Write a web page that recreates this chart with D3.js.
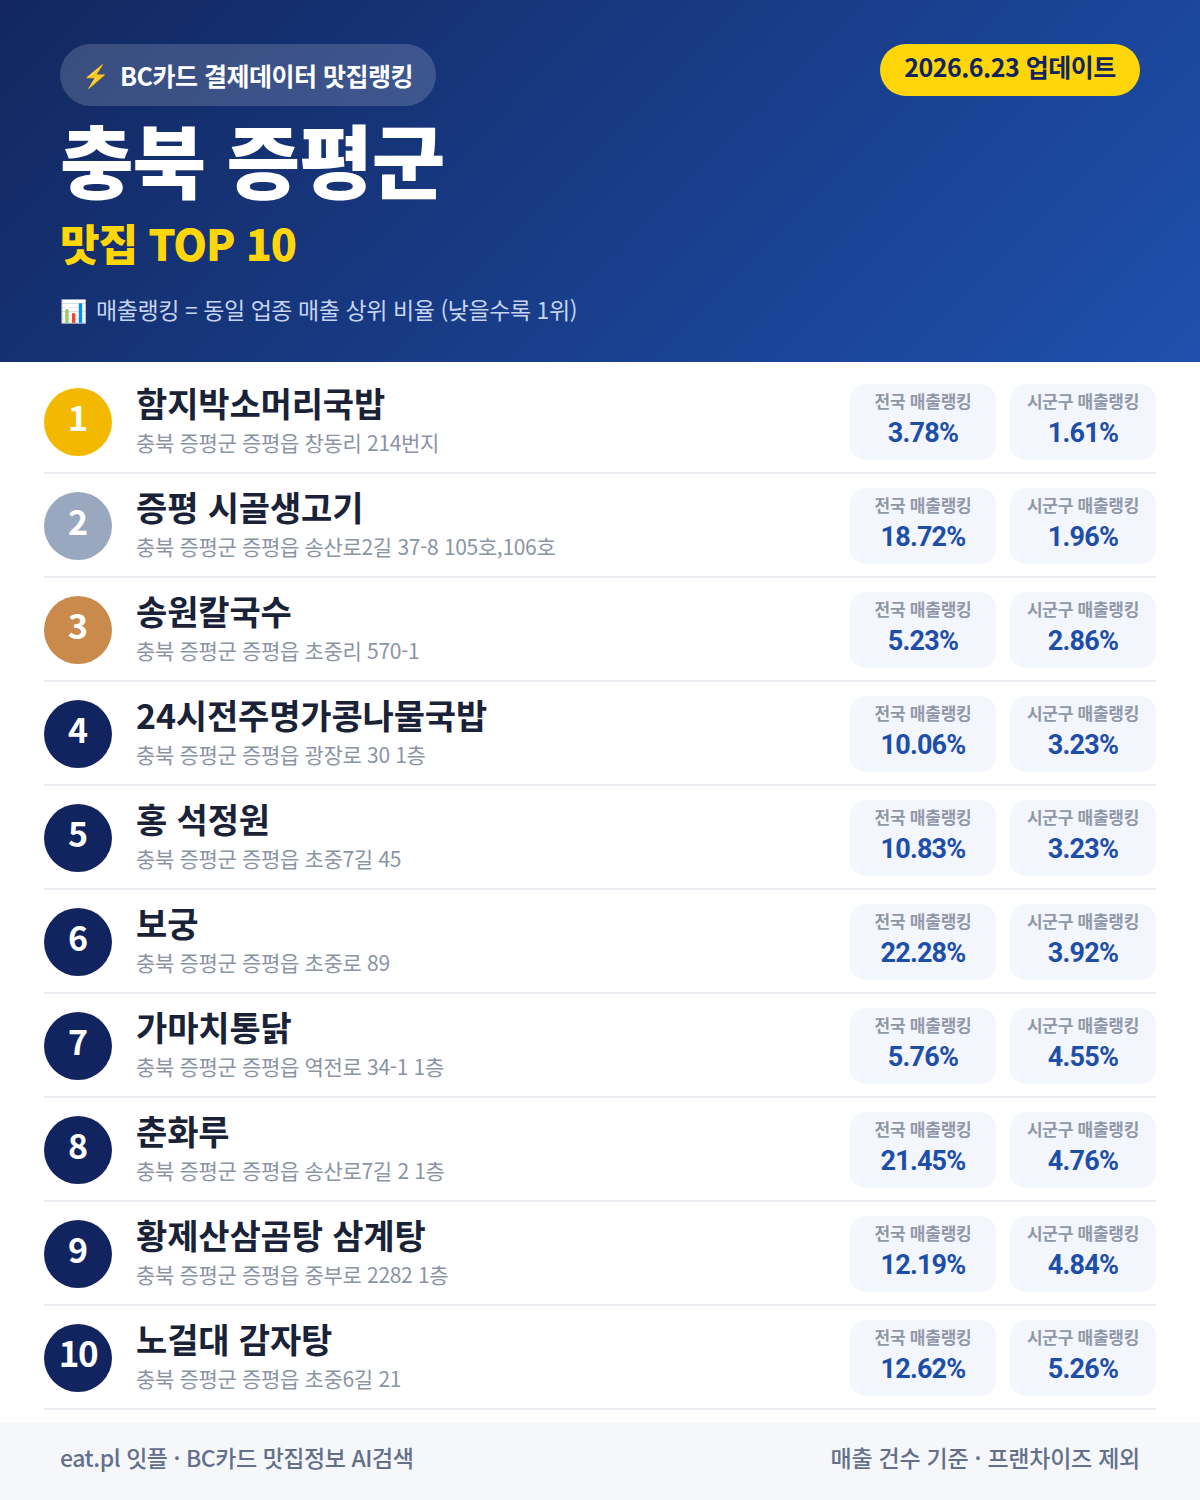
<!DOCTYPE html>
<html lang="ko">
<head>
<meta charset="utf-8">
<script src="https://cdn.jsdelivr.net/npm/d3@7/dist/d3.min.js"></script>
<style>
html,body{margin:0;padding:0;background:#fff}
svg{display:block}
text{font-family:"Noto Sans CJK KR","Noto Sans",sans-serif}
</style>
</head>
<body>
<svg id="c" width="1200" height="1500" viewBox="0 0 1200 1500"></svg>
<script>
const ranks = [1,2,3,4,5,6,7,8,9,10];
const names = ["함지박소머리국밥","증평 시골생고기","송원칼국수","24시전주명가콩나물국밥","홍 석정원","보궁","가마치통닭","춘화루","황제산삼곰탕 삼계탕","노걸대 감자탕"];
const addresses = ["충북 증평군 증평읍 창동리 214번지","충북 증평군 증평읍 송산로2길 37-8 105호,106호","충북 증평군 증평읍 초중리 570-1","충북 증평군 증평읍 광장로 30 1층","충북 증평군 증평읍 초중7길 45","충북 증평군 증평읍 초중로 89","충북 증평군 증평읍 역전로 34-1 1층","충북 증평군 증평읍 송산로7길 2 1층","충북 증평군 증평읍 중부로 2282 1층","충북 증평군 증평읍 초중6길 21"];
const national = [3.78,18.72,5.23,10.06,10.83,22.28,5.76,21.45,12.19,12.62];
const district = [1.61,1.96,2.86,3.23,3.23,3.92,4.55,4.76,4.84,5.26];
const medalColors = ["#f2b900","#9aa8bf","#c98a4b"];
const defaultBadge = "#12245f";

const svg = d3.select("#c");
const defs = svg.append("defs");
const g = defs.append("linearGradient").attr("id","hdr")
  .attr("gradientUnits","userSpaceOnUse")
  .attr("x1",209.5).attr("y1",-209.5).attr("x2",990.5).attr("y2",571.5);
g.append("stop").attr("offset","0%").attr("stop-color","#12275f");
g.append("stop").attr("offset","100%").attr("stop-color","#1e50ad");

svg.append("rect").attr("width",1200).attr("height",362).attr("fill","url(#hdr)");
svg.append("rect").attr("x",60).attr("y",44).attr("width",376).attr("height",62).attr("rx",31)
  .attr("fill","#fff").attr("fill-opacity",0.17);

function t(x,y,s,size,weight,fill,anchor,ls){
  return svg.append("text").attr("x",x).attr("y",y).text(s)
    .attr("font-size",size).attr("font-weight",weight).attr("fill",fill)
    .attr("text-anchor",anchor||"start").attr("letter-spacing",ls||0);
}
t(82,84,"⚡",22,400,"#ffd400");
t(120,86,"BC카드 결제데이터 맛집랭킹",25,700,"#fff","start",-0.5);
svg.append("rect").attr("x",880).attr("y",44).attr("width",260).attr("height",52).attr("rx",26).attr("fill","#ffd60a");
t(1010,77,"2026.6.23 업데이트",25,700,"#12245f","middle",-0.5);
t(60,192,"충북 증평군",80,900,"#fff","start",-1);
t(60,261,"맛집 TOP 10",43,900,"#ffd60a","start",-1);
t(60,319,"📊",22,400,"#fff");
t(96,319,"매출랭킹 = 동일 업종 매출 상위 비율 (낮을수록 1위)",23,400,"#c5d4f2","start",-0.44);

const y = d3.scaleBand().domain(ranks).range([370,1410]);
const rows = svg.append("g").selectAll("g").data(ranks).join("g")
  .attr("transform",r=>`translate(0,${y(r)})`);
rows.append("rect").attr("x",44).attr("y",102).attr("width",1112).attr("height",2).attr("fill","#e9ecf1");
rows.append("circle").attr("cx",78).attr("cy",52).attr("r",34)
  .attr("fill",(r,i)=>medalColors[i]||defaultBadge);
rows.append("text").attr("x",78).attr("y",61).attr("text-anchor","middle")
  .attr("font-size",r=>r===10?35:34).attr("font-weight",700).attr("fill","#fff").attr("letter-spacing",r=>r===10?-1.5:0)
  .text(r=>r);
rows.append("text").attr("x",136).attr("y",47).attr("font-size",34).attr("font-weight",700)
  .attr("fill","#1a2238").attr("letter-spacing",-0.15).text((r,i)=>names[i]);
rows.append("text").attr("x",136).attr("y",81).attr("font-size",21).attr("font-weight",400)
  .attr("fill","#8b94a5").attr("letter-spacing",-0.33).text((r,i)=>addresses[i]);

const boxes = [
  {x:850,w:146,label:"전국 매출랭킹",vals:national},
  {x:1010,w:146,label:"시군구 매출랭킹",vals:district}
];
boxes.forEach(b=>{
  const cg = rows.append("g");
  cg.append("rect").attr("x",b.x).attr("y",14).attr("width",b.w).attr("height",76).attr("rx",16).attr("fill","#f3f6fc");
  cg.append("text").attr("x",b.x+b.w/2).attr("y",38).attr("text-anchor","middle")
    .attr("font-size",17).attr("font-weight",700).attr("fill","#8f98a8").attr("letter-spacing",-0.25).text(b.label);
  cg.append("text").attr("x",b.x+b.w/2).attr("y",72).attr("text-anchor","middle")
    .style("font-family","Roboto,sans-serif")
    .attr("font-size",27).attr("font-weight",700).attr("fill","#1e4fa8").attr("letter-spacing",-0.8)
    .text((r,i)=>b.vals[i].toFixed(2)+"%");
});

svg.append("rect").attr("y",1422).attr("width",1200).attr("height",78).attr("fill","#f5f7fb");
t(60,1467,"eat.pl 잇플 · BC카드 맛집정보 AI검색",23,500,"#64708a","start",-0.45);
t(1140,1467,"매출 건수 기준 · 프랜차이즈 제외",23,500,"#64708a","end",-0.25);
</script>
</body>
</html>
